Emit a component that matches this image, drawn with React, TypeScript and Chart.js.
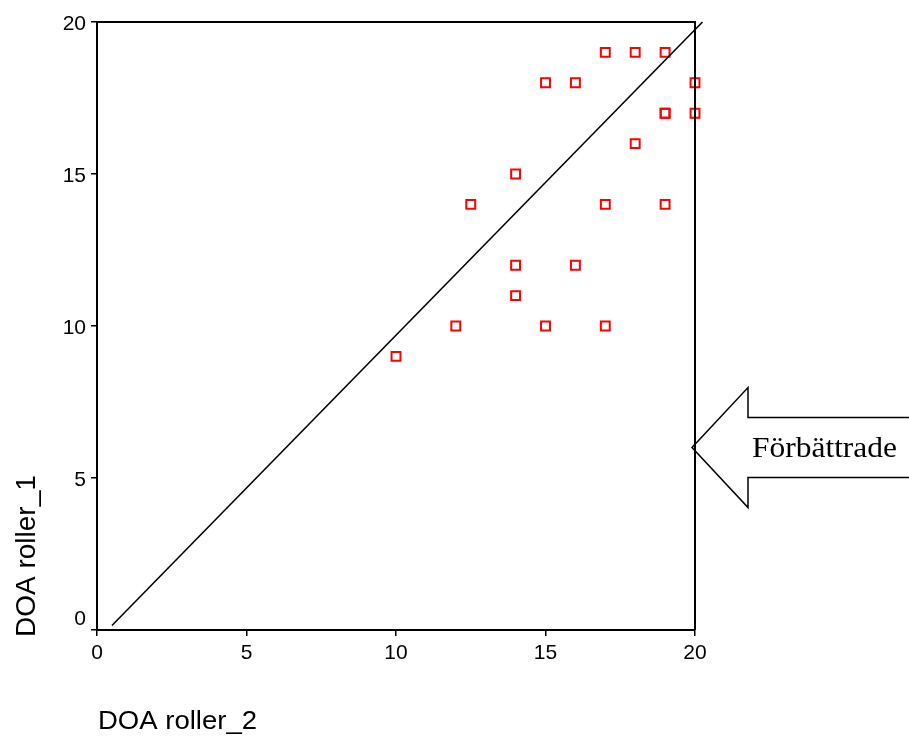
import React, { useEffect, useRef } from 'react';
import { Chart, registerables } from 'chart.js';
Chart.register(...registerables);

// DOA roller_2 (x) vs DOA roller_1 (y)
const pointsX = [17, 18, 19, 15, 16, 20, 19, 19, 20, 18, 14, 12.5, 17, 19, 14, 16, 14, 12, 15, 17, 10];
const pointsY = [19, 19, 19, 18, 18, 18, 17, 17, 17, 16, 15, 14, 14, 14, 12, 12, 11, 10, 10, 10, 9];

// reference line
const refX = [0.5, 20.25];
const refY = [0.15, 20];

const xTicks = [0, 5, 10, 15, 20];
const yTicks = [0, 5, 10, 15, 20];

const xTitle = 'DOA roller_2';
const yTitle = 'DOA roller_1';
const arrowLabel = 'Förbättrade';
const arrowValue = 6;

const SANS = '"Liberation Sans", Arial, sans-serif';
const SERIF = '"Liberation Serif", "Times New Roman", serif';

const overlay = {
  id: 'overlay',
  afterDraw(chart: any) {
    const ctx = chart.ctx as CanvasRenderingContext2D;
    const { chartArea } = chart;
    const xs = chart.scales.x;
    const ys = chart.scales.y;
    ctx.save();
    // box
    ctx.strokeStyle = '#000';
    ctx.lineWidth = 2;
    ctx.beginPath();
    ctx.moveTo(chartArea.left, chartArea.top);
    ctx.lineTo(chartArea.right, chartArea.top);
    ctx.lineTo(chartArea.right, chartArea.bottom);
    ctx.stroke();

    // y tick labels
    ctx.fillStyle = '#000';
    ctx.font = `21px ${SANS}`;
    ctx.textAlign = 'right';
    ctx.textBaseline = 'middle';
    yTicks.forEach((v) => {
      let py = ys.getPixelForValue(v) + 2;
      if (v === 0) py -= 13;
      ctx.fillText(String(v), chartArea.left - 11, py);
    });

    // x title
    ctx.textAlign = 'left';
    ctx.textBaseline = 'alphabetic';
    ctx.font = `25px ${SANS}`;
    {
      const w = ctx.measureText(xTitle).width;
      const sx = 159 / w;
      ctx.save();
      ctx.translate(chartArea.left + 1, 729);
      ctx.scale(sx, 1);
      ctx.fillText(xTitle, 0, 0);
      ctx.restore();
    }
    // y title
    ctx.font = `28px ${SANS}`;
    {
      ctx.save();
      ctx.translate(35, 637);
      ctx.rotate(-Math.PI / 2);
      ctx.fillText(yTitle, 0, 0);
      ctx.restore();
    }

    // arrow
    const tipX = xs.getPixelForValue(20) - 3;
    const tipY = ys.getPixelForValue(arrowValue);
    const headX = tipX + 56;
    const endX = chart.width + 10;
    ctx.strokeStyle = '#000';
    ctx.lineWidth = 1.5;
    ctx.beginPath();
    ctx.moveTo(endX, tipY - 30);
    ctx.lineTo(headX, tipY - 30);
    ctx.lineTo(headX, tipY - 60);
    ctx.lineTo(tipX, tipY);
    ctx.lineTo(headX, tipY + 60);
    ctx.lineTo(headX, tipY + 30);
    ctx.lineTo(endX, tipY + 30);
    ctx.stroke();

    ctx.font = `29px ${SERIF}`;
    {
      const w = ctx.measureText(arrowLabel).width;
      const sx = 145 / w;
      ctx.save();
      ctx.translate(headX + 4, tipY + 9);
      ctx.scale(sx, 1);
      ctx.fillText(arrowLabel, 0, 0);
      ctx.restore();
    }
    ctx.restore();
  },
};

export default function App() {
  const ref = useRef<HTMLCanvasElement>(null);
  useEffect(() => {
    if (!ref.current) return;
    const chart = new Chart(ref.current, {
      type: 'scatter',
      data: {
        datasets: [
          {
            type: 'line',
            data: refX.map((x, i) => ({ x, y: refY[i] })),
            borderColor: '#000',
            borderWidth: 1.6,
            pointRadius: 0,
            fill: false,
            clip: false as any,
          } as any,
          {
            data: pointsX.map((x, i) => ({ x, y: pointsY[i] })),
            pointStyle: 'rect',
            pointRadius: 6.3,
            borderColor: '#ff0000',
            backgroundColor: 'rgba(0,0,0,0)',
            borderWidth: 2,
            clip: false as any,
          } as any,
        ],
      },
      options: {
        responsive: false,
        animation: false,
        events: [],
        layout: { padding: { left: 0, top: 22, right: 214, bottom: 0 } },
        plugins: { legend: { display: false }, tooltip: { enabled: false } },
        scales: {
          x: {
            type: 'linear',
            min: 0,
            max: 20,
            afterFit: (s: any) => { s.height = 106; },
            afterBuildTicks: (s: any) => { s.ticks = xTicks.map((v) => ({ value: v })); },
            ticks: { color: '#000', font: { family: SANS, size: 21 }, padding: 5, maxRotation: 0 },
            grid: { display: true, drawOnChartArea: false, drawTicks: true, tickLength: 6, color: '#000', lineWidth: 1.5 },
            border: { display: true, color: '#000', width: 2 },
          },
          y: {
            type: 'linear',
            min: 0,
            max: 20,
            afterFit: (s: any) => { s.width = 97; },
            afterBuildTicks: (s: any) => { s.ticks = yTicks.map((v) => ({ value: v })); },
            ticks: { display: false },
            grid: { display: true, drawOnChartArea: false, drawTicks: true, tickLength: 6, color: '#000', lineWidth: 1.5 },
            border: { display: true, color: '#000', width: 2 },
          },
        },
      },
      plugins: [overlay],
    });
    return () => chart.destroy();
  }, []);
  return (
    <div style={{ position: 'fixed', left: 0, top: 0, width: 909, height: 736, background: '#fff' }}>
      <canvas ref={ref} width={909} height={736} style={{ display: 'block' }} />
    </div>
  );
}
